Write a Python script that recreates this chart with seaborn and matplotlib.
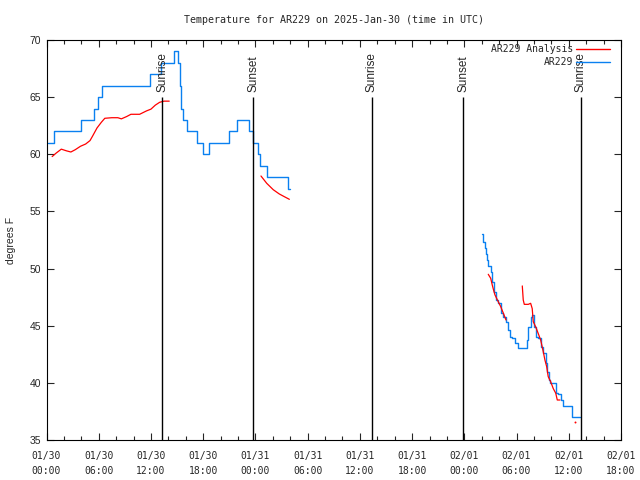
#!/usr/bin/env python
"""Temperature trace for AR229, observations vs analysis, gnuplot look."""
import pandas as pd
import seaborn as sns
import matplotlib.pyplot as plt
import matplotlib.dates as mdates
from matplotlib.lines import Line2D

START = pd.Timestamp("2025-01-30 00:00")
END = pd.Timestamp("2025-02-01 18:00")

# AR229 observations (hours after 01/30 00:00 UTC, degrees F), two runs
obs1_hours = [0.2, 0.86, 3.93, 5.5, 5.95, 6.4, 11.9, 13.12, 14.65, 15.15, 15.3,
              15.45, 15.7, 16.1, 17.3, 18.0, 18.7, 21.0, 21.85, 23.3, 23.7,
              24.25, 24.5, 25.3, 27.8, 27.97]
obs1_temp = [61, 62, 63, 64, 65, 66, 67, 68, 69, 68, 66,
             64, 63, 62, 61, 60, 61, 62, 63, 62, 61,
             60, 59, 58, 57, 57]
obs2_hours = [50.06, 50.18, 50.37, 50.49, 50.57, 50.75, 51.03, 51.21, 51.41,
              51.64, 51.9, 52.18, 52.48, 52.79, 53.05, 53.25, 53.51, 53.82,
              54.2, 55.16, 55.35, 55.62, 55.8, 56.0, 56.2, 56.5, 56.77, 57.07,
              57.38, 57.53, 57.76, 57.84, 58.53, 58.79, 59.07, 59.3, 60.33, 61.34]
obs2_temp = [53.0, 52.35, 51.8, 51.25, 50.75, 50.2, 49.7, 48.85, 47.98,
             47.25, 46.96, 46.1, 45.8, 45.35, 44.6, 44.04, 43.9, 43.5,
             43.08, 43.75, 44.9, 45.8, 45.9, 44.9, 44.04, 43.9, 43.17, 42.6,
             41.7, 40.98, 40.25, 40.0, 39.1, 39.03, 38.5, 38.0, 37.0, 37.0]

# AR229 analysis
ana1_hours = [0.65, 1.1, 1.7, 2.3, 2.8, 3.3, 3.9, 4.5, 5.0, 5.3, 5.8, 6.3, 6.7,
              7.5, 8.2, 8.6, 9.2, 9.7, 10.7, 11.5, 12.0, 12.5, 13.0, 13.5, 14.1]
ana1_temp = [59.8, 60.1, 60.45, 60.3, 60.2, 60.4, 60.7, 60.9, 61.2, 61.6, 62.3,
             62.8, 63.15, 63.2, 63.2, 63.1, 63.3, 63.5, 63.5, 63.8, 63.95,
             64.3, 64.55, 64.65, 64.65]
ana2_hours = [24.64, 25.3, 26.05, 26.74, 27.3, 27.9]
ana2_temp = [58.1, 57.46, 56.9, 56.53, 56.3, 56.06]
ana3_hours = [50.75, 51.03, 51.21, 51.41, 51.52, 51.9, 52.18, 52.48, 52.79]
ana3_temp = [49.5, 49.15, 48.56, 47.98, 47.7, 47.1, 46.67, 46.1, 45.5]
ana4_hours = [54.66, 54.77, 54.89, 55.35, 55.62, 55.8, 55.92, 56.2, 56.5, 56.77,
              57.07, 57.26, 57.46, 57.64, 57.92, 58.22, 58.5, 58.68, 58.99]
ana4_temp = [48.48, 47.25, 46.87, 46.87, 46.96, 46.5, 45.35, 44.9, 44.3, 43.75,
             42.73, 42.0, 41.42, 40.54, 40.1, 39.5, 39.1, 38.5, 38.5]
ana_dot_hours = [60.75]
ana_dot_temp = [36.6]

sun_hours = [13.3, 23.76, 37.39, 47.85, 61.37]
sun_labels = ["Sunrise", "Sunset", "Sunrise", "Sunset", "Sunrise"]

OBS_COLOR = "#0a80f0"
ANA_COLOR = "#ff0000"
MONO = "DejaVu Sans Mono"
SANS = "Liberation Sans"


def to_frame(runs):
    parts = []
    for i, (hours, temp) in enumerate(runs):
        parts.append(pd.DataFrame({
            "time": START + pd.to_timedelta(hours, unit="h"),
            "temp": temp,
            "run": i,
        }))
    return pd.concat(parts, ignore_index=True)


sns.set_theme(style="white")
plt.rcParams.update({
    "xtick.direction": "in",
    "ytick.direction": "in",
    "axes.linewidth": 0.8,
    "axes.edgecolor": "black",
})

obs = to_frame([(obs1_hours, obs1_temp), (obs2_hours, obs2_temp)])
ana = to_frame([(ana1_hours, ana1_temp), (ana2_hours, ana2_temp),
                (ana3_hours, ana3_temp), (ana4_hours, ana4_temp)])
dot = to_frame([(ana_dot_hours, ana_dot_temp)])

fig = plt.figure(figsize=(6.4, 4.8), dpi=100)
ax = fig.add_axes([46.5 / 640, 40 / 480, 574.5 / 640, 400 / 480])

sns.lineplot(data=obs, x="time", y="temp", units="run", estimator=None,
             color=OBS_COLOR, lw=1, drawstyle="steps-post", ax=ax)
sns.lineplot(data=ana, x="time", y="temp", units="run", estimator=None,
             color=ANA_COLOR, lw=0.9, ax=ax)
sns.scatterplot(data=dot, x="time", y="temp", color=ANA_COLOR, s=2,
                linewidth=0, ax=ax)

sun_times = START + pd.to_timedelta(sun_hours, unit="h")
ax.vlines(sun_times, 35, 65, colors="black", lw=1)
for t, lab in zip(sun_times, sun_labels):
    ax.annotate(lab, (t, 65), xytext=(0, 4), textcoords="offset points",
                rotation=90, ha="center", va="bottom", fontsize=8.5,
                family=SANS)

ax.set_xlim(START, END)
ax.set_ylim(35, 70)
ax.set_yticks(range(35, 71, 5))
ax.xaxis.set_major_locator(mdates.HourLocator(byhour=[0, 6, 12, 18]))
ax.xaxis.set_minor_locator(mdates.HourLocator(interval=2))
ax.xaxis.set_major_formatter(mdates.DateFormatter("%m/%d\n%H:%M"))
ax.tick_params(axis="x", which="both", top=True, bottom=True)
ax.tick_params(axis="x", which="major", length=5, width=0.8, pad=8,
               labelsize=7)
ax.tick_params(axis="x", which="minor", length=3, width=0.8)
ax.tick_params(axis="y", which="major", left=True, right=True, length=5,
               width=0.8, pad=4, labelsize=7.5)
for lab in ax.get_xticklabels():
    lab.set_family(MONO)
    lab.set_linespacing(1.6)
for lab in ax.get_yticklabels():
    lab.set_family(SANS)

ax.set_xlabel("")
ax.set_ylabel("degrees F", family=SANS, fontsize=7.5, labelpad=10)
ax.set_title("Temperature for AR229 on 2025-Jan-30 (time in UTC)",
             family=MONO, fontsize=7.2, pad=12)

handles = [Line2D([], [], color=ANA_COLOR, lw=1),
           Line2D([], [], color=OBS_COLOR, lw=1)]
ax.legend(handles, ["AR229 Analysis", "AR229"], loc="upper right",
          bbox_to_anchor=(0.98, 0.99), frameon=False, markerfirst=False,
          handlelength=3.4, handletextpad=0.3, labelspacing=0.3,
          borderpad=0, borderaxespad=0, prop={"family": MONO, "size": 7})

fig.savefig("out.png", dpi=100)
